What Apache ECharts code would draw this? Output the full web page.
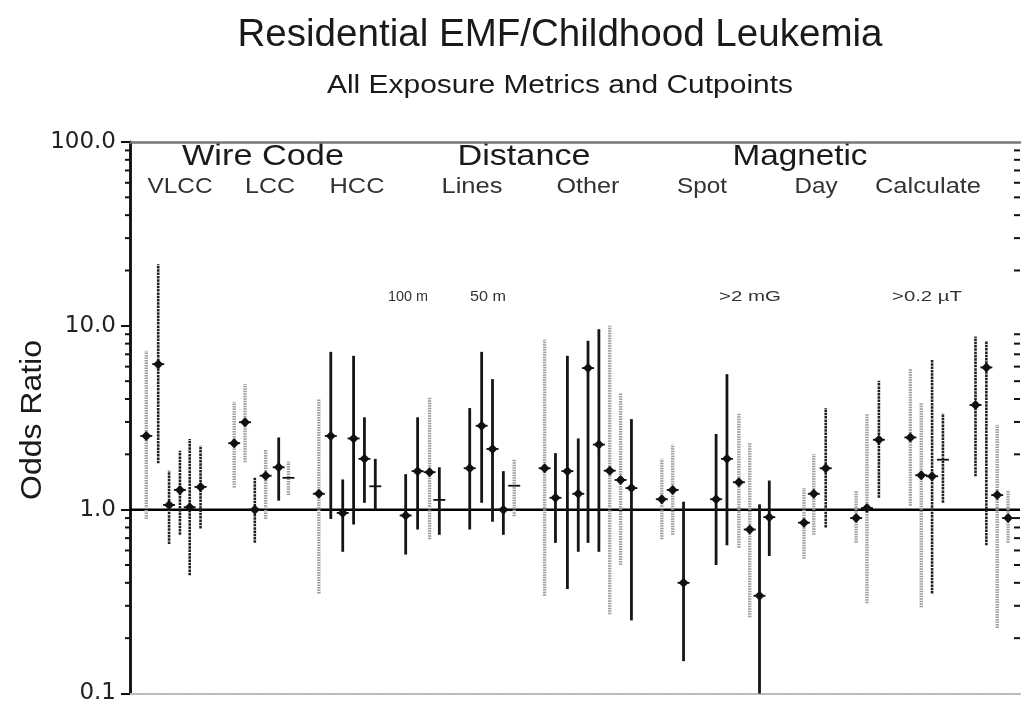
<!DOCTYPE html>
<html><head><meta charset="utf-8">
<script src="https://cdn.jsdelivr.net/npm/echarts@6/dist/echarts.min.js"></script>
<style>html,body{margin:0;padding:0;background:#fff}#c{width:1026px;height:705px}</style>
</head><body><div id="c"></div>
<script>
// ---- data ----
const slots = [1.5,2.6,3.6,4.6,5.5,6.5, 9.6,10.6,11.5,12.5,13.7,14.6, 17.4,18.5,19.6,20.6,21.6,22.6,
  25.4,26.5,27.6,28.5, 31.3,32.4,33.4,34.4,35.4, 38.2,39.2,40.3,41.3,42.2,43.2,44.2,45.2,46.2,
  49.0,50.0,51.0, 54.0,55.0,56.1,57.1,58.0,58.9, 62.1,63.0,64.1, 66.9,67.9,69.0, 71.9,72.9,73.9,74.9,
  77.9,78.9,79.9,80.9];
const oddsRatio = [2.52,6.19,1.06,1.28,1.03,1.33, 2.30,2.99,1.00,1.53,1.70,1.49, 1.22,2.52,0.96,2.44,1.89,1.34,
  0.93,1.62,1.60,1.13, 1.68,2.86,2.14,1.00,1.35, 1.68,1.16,1.62,1.22,5.89,2.26,1.63,1.45,1.31,
  1.14,1.28,0.40, 1.14,1.89,1.41,0.78,0.34,0.91, 0.85,1.22,1.68, 0.90,1.02,2.40, 2.47,1.54,1.52,1.87,
  3.71,5.94,1.20,0.90];
const lower = [0.89,1.79,0.65,0.73,0.44,0.79, 1.32,1.81,0.66,0.89,1.12,1.20, 0.35,0.89,0.59,0.83,1.09,1.00,
  0.57,0.78,0.69,0.73, 0.78,1.09,0.86,0.73,0.92, 0.34,0.66,0.37,0.59,0.66,0.59,0.27,0.50,0.25,
  0.69,0.73,0.15, 0.50,0.64,0.62,0.26,0.10,0.56, 0.54,0.73,0.80, 0.66,0.31,1.16, 1.05,0.295,0.35,1.09,
  1.52,0.64,0.227,0.66];
const upper = [7.31,21.6,1.63,2.09,2.42,2.23, 3.86,4.82,1.50,2.14,2.47,1.83, 4.00,7.22,1.46,6.87,3.18,1.89,
  1.56,3.18,4.08,1.70, 3.57,7.22,5.13,1.62,1.89, 8.39,2.03,6.87,2.44,8.29,9.59,10.0,4.29,3.11,
  1.89,2.26,1.105, 2.58,5.46,3.34,2.30,1.07,1.44, 1.31,2.01,3.57, 1.26,3.34,5.02, 5.87,3.80,6.51,3.34,
  8.76,8.29,2.90,1.28];
// study type: g = gray, d = dark dashed, s = solid
const studyKind = ['g','d','d','d','d','d', 'g','g','d','g','s','g', 'g','s','s','s','s','s',
  's','s','g','s', 's','s','s','s','g', 'g','s','s','s','s','s','g','g','s',
  'g','g','s', 's','s','g','g','s','s', 'g','g','d', 'g','g','d', 'g','g','d','d',
  'd','d','g','g'];
const tickOnly = [11,17,21,26,54];
const groupLabels = ['Wire Code','Distance','Magnetic'];
const subLabels = ['VLCC','LCC','HCC','Lines','Other','Spot','Day','Calculate'];
const cutLabels = ['100 m','50 m','>2 mG','>0.2 \u00B5T'];
const yTickValues = [0.1,1,10,100];
const yTickLabels = ['0.1','1.0','10.0','100.0'];
const minorTickValues = [0.2,0.3,0.4,0.5,0.6,0.7,0.8,0.9, 2,3,4,5,6,7,8,9, 20,30,40,50,60,70,80,90];
const titleText = 'Residential EMF/Childhood Leukemia';
const subtitleText = 'All Exposure Metrics and Cutpoints';
const yName = 'Odds Ratio';

// ---- layout ----
const FONT = '"Liberation Sans", Arial, sans-serif';
const mctx = document.createElement('canvas').getContext('2d');
function fitScale(text, size, w){ mctx.font = size + 'px ' + FONT; return w / mctx.measureText(text).width; }
function label(text, cx, cy, size, w, rot, color){
  return { type:'text', x:cx, y:cy, rotation: rot||0, scaleX: fitScale(text,size,w), silent:true,
    style:{ text, font: size+'px '+FONT, fill: color||'#1a1a1a', textAlign:'center', textVerticalAlign:'middle' } };
}
const groupPos = [[263,157,162],[524,157,133],[800,157,135]];
const subPos = [[180,187,65],[270,187,50],[357,187,55],[472,187,61],[588,187,63],[702,187,50],[816,187,43],[928,187,106]];
const cutPos = [[408,297,40],[488,297,36],[750,297,62],[927,297,70]];

const STYLE = {
  s:{ stroke:'#151515', lineWidth:2.8 },
  d:{ stroke:'#202020', lineWidth:2.6, lineDash:[2.5,0.8] },
  g:{ stroke:'#9c9c9c', lineWidth:3.4, lineDash:[1.5,1] }
};

const graphics = [
  label(titleText, 560, 36, 38, 645),
  label(subtitleText, 560, 86, 26, 466),
  label(yName, 33, 420, 30, 160, Math.PI/2)
];
groupLabels.forEach((t,i)=>graphics.push(label(t, groupPos[i][0], groupPos[i][1], 30, groupPos[i][2])));
subLabels.forEach((t,i)=>graphics.push(label(t, subPos[i][0], subPos[i][1], 22, subPos[i][2], 0, '#333')));
cutLabels.forEach((t,i)=>graphics.push(label(t, cutPos[i][0], cutPos[i][1], 15, cutPos[i][2], 0, '#333')));

const XMIN = 0, XMAX = 82;
const chart = echarts.init(document.getElementById('c'), null, {renderer:'canvas'});
chart.setOption({
  animation:false,
  backgroundColor:'#fff',
  grid:{ left:130, right:6, top:142, bottom:10 },
  xAxis:[
    { type:'value', min:XMIN, max:XMAX, position:'bottom', axisLabel:{show:false}, axisTick:{show:false}, splitLine:{show:false},
      axisLine:{ lineStyle:{ color:'#bbb', width:2, type:[2,1] } } },
    { type:'value', min:XMIN, max:XMAX, position:'top', axisLabel:{show:false}, axisTick:{show:false}, splitLine:{show:false},
      axisLine:{ show:true, lineStyle:{ color:'#777', width:2.5, type:[2,1] } } }
  ],
  yAxis:[
    { type:'log', logBase:10, min:0.1, max:100, position:'left', splitLine:{show:false},
      axisLine:{ show:true, lineStyle:{ color:'#111', width:2.5 } },
      axisTick:{ show:true, length:9, lineStyle:{ color:'#111', width:2 } },
      axisLabel:{ margin:14, fontFamily:'DejaVu Sans', fontSize:23, color:'#222',
        formatter: v => { const i = yTickValues.findIndex(t => Math.abs(Math.log10(t) - Math.log10(v)) < 1e-6); return i>=0 ? yTickLabels[i] : ''; } } },
    { type:'log', logBase:10, min:0.1, max:100, position:'right', splitLine:{show:false},
      axisLine:{ show:true, lineStyle:{ color:'#111', width:2.5 } },
      axisTick:{ show:true, inside:true, length:9, lineStyle:{ color:'#111', width:2 } },
      axisLabel:{ show:false } }
  ],
  graphic: graphics,
  series:[
    { type:'line', xAxisIndex:0, yAxisIndex:0, data:[[XMIN,1],[XMAX,1]], symbol:'none', silent:true,
      lineStyle:{ color:'#000', width:2.5 }, z:3 },
    { type:'custom', xAxisIndex:0, yAxisIndex:0, clip:false, silent:true, z:2,
      data: minorTickValues.map(v => [v]),
      renderItem:(p, api) => {
        const v = api.value(0);
        const l = api.coord([XMIN, v]), r = api.coord([XMAX, v]);
        return { type:'group', children:[
          { type:'line', shape:{ x1:l[0]-5, y1:l[1], x2:l[0], y2:l[1] }, style:{ stroke:'#111', lineWidth:2 } },
          { type:'line', shape:{ x1:r[0]-6, y1:r[1], x2:r[0], y2:r[1] }, style:{ stroke:'#111', lineWidth:2 } }
        ]};
      } },
    { type:'custom', xAxisIndex:0, yAxisIndex:0, silent:true, z:4,
      data: slots.map((s,i) => [s, oddsRatio[i], lower[i], upper[i]]),
      renderItem:(p, api) => {
        const x = api.value(0);
        const c = api.coord([x, api.value(1)]);
        const lo = api.coord([x, api.value(2)]);
        const hi = api.coord([x, api.value(3)]);
        const st = STYLE[studyKind[p.dataIndex]];
        const ch = [{ type:'line', shape:{ x1:lo[0], y1:lo[1], x2:hi[0], y2:hi[1] }, style: Object.assign({}, st) }];
        ch.push({ type:'line', shape:{ x1:c[0]-6, y1:c[1], x2:c[0]+6, y2:c[1] }, style:{ stroke:'#111', lineWidth:1.8 } });
        if (tickOnly.indexOf(p.dataIndex) < 0) {
          ch.push({ type:'polygon', shape:{ points:[[c[0]-5,c[1]],[c[0],c[1]-5],[c[0]+5,c[1]],[c[0],c[1]+5]] }, style:{ fill:'#111' } });
        }
        return { type:'group', children: ch };
      } }
  ]
});
</script></body></html>
